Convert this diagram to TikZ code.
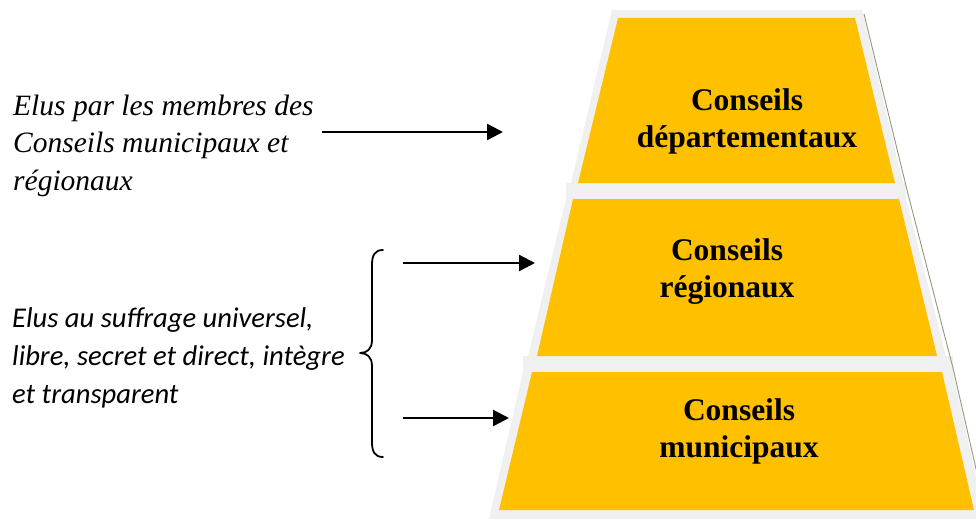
\documentclass[tikz,border=0pt]{standalone}
\usepackage{fontspec}
\setmainfont{Liberation Serif}
\newfontfamily\calib{Carlito}
\usetikzlibrary{arrows.meta}

\definecolor{tierfill}{HTML}{FFC000}
\definecolor{tierrim}{HTML}{F0F0F0}
\definecolor{tiershade}{HTML}{8E9A7E}

\tikzset{
  rim/.style={fill=tierrim, draw=none},
  face/.style={fill=tierfill, draw=none},
  shade/.style={draw=tiershade, line width=0.9pt},
  tierlabel/.style={anchor=base, inner sep=0pt,
    font=\fontsize{31.5}{37}\selectfont\bfseries},
  note/.style={anchor=base west, inner sep=0pt},
  pointer/.style={line width=2.4pt, -{Triangle[length=16pt,width=16pt]}},
  brace/.style={line width=1.8pt, line cap=round, line join=round}
}

\begin{document}
\begin{tikzpicture}[x=1pt, y=-1pt]
\useasboundingbox (0,0) rectangle (976,519);

% grey rims of the three tiers
\fill[rim] (612,10) -- (862,10) -- (903,183) -- (571,183) -- cycle;
\fill[rim] (566,183) rectangle (906,199);
\fill[rim] (566,199) -- (906,199) -- (946,356) -- (528,356) -- cycle;
\fill[rim] (523,356) rectangle (953,372);
\fill[rim] (523,372) -- (953,372) -- (985,519) -- (489,519) -- cycle;

% thin shadow along the right side
\draw[shade] (864,14) -- (908,194);
\draw[shade] (908,194) -- (953,368);
\draw[shade] (953,368) -- (990,530);

% yellow faces
\fill[face] (618,18) -- (855,18) -- (895,183) -- (578,183) -- cycle;
\fill[face] (573,199) -- (899,199) -- (937,356) -- (537,356) -- cycle;
\fill[face] (532,372) -- (942,372) -- (974,510) -- (499,510) -- cycle;

% tier labels
\node[tierlabel] (dep) at (747,110)
  {\begin{tabular}[t]{@{}c@{}}Conseils\\départementaux\end{tabular}};
\node[tierlabel] (reg) at (727,260)
  {\begin{tabular}[t]{@{}c@{}}Conseils\\régionaux\end{tabular}};
\node[tierlabel] (mun) at (739,420)
  {\begin{tabular}[t]{@{}c@{}}Conseils\\municipaux\end{tabular}};

% left-hand notes
\node[note, font=\fontsize{29.5}{37.5}\selectfont\itshape] (indirect) at (13,115)
  {\begin{tabular}[t]{@{}l@{}}Elus par les membres des\\Conseils municipaux et\\régionaux\end{tabular}};
\node[note, font=\calib\fontsize{28.6}{38}\selectfont\itshape] (direct) at (12,327)
  {\begin{tabular}[t]{@{}l@{}}Elus au suffrage universel,\\libre, secret et direct, intègre\\et transparent\end{tabular}};

% brace grouping the two directly elected tiers
\draw[brace] (383,250) .. controls (375,250) and (372,255) .. (372,265)
  -- (372,340) .. controls (372,349) and (367,353) .. (360,353)
  .. controls (367,353) and (372,357) .. (372,366)
  -- (372,442) .. controls (372,452) and (375,457) .. (383,457);

% arrows
\coordinate (a1s) at (322,132);
\coordinate (a1e) at (503,132);
\coordinate (a2s) at (403,263);
\coordinate (a2e) at (535,263);
\coordinate (a3s) at (403,418);
\coordinate (a3e) at (509,418);
\draw[pointer] (a1s) -- (a1e);
\draw[pointer] (a2s) -- (a2e);
\draw[pointer] (a3s) -- (a3e);
\end{tikzpicture}
\end{document}
